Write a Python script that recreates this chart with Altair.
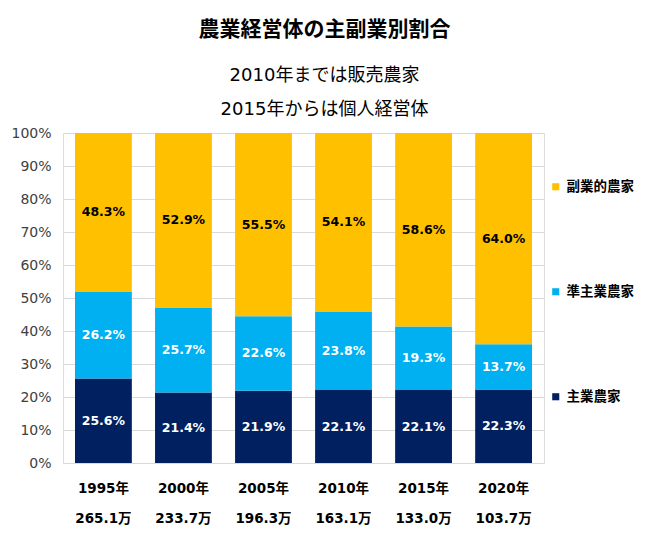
import altair as alt
import pandas as pd

years = ["1995年", "2000年", "2005年", "2010年", "2015年", "2020年"]
totals = ["265.1万", "233.7万", "196.3万", "163.1万", "133.0万", "103.7万"]
series = ["主業農家", "準主業農家", "副業的農家"]
main_vals = [25.6, 21.4, 21.9, 22.1, 22.1, 22.3]
semi_vals = [26.2, 25.7, 22.6, 23.8, 19.3, 13.7]
side_vals = [48.3, 52.9, 55.5, 54.1, 58.6, 64.0]
y_ticks = [0, 10, 20, 30, 40, 50, 60, 70, 80, 90, 100]

rows = []
for i, (y, t) in enumerate(zip(years, totals)):
    for k, (s, vals) in enumerate(zip(series, [main_vals, semi_vals, side_vals])):
        rows.append({"cat": y + "|" + t, "series": s, "idx": k, "value": vals[i]})
df = pd.DataFrame(rows)

FONT = "DejaVu Sans, Noto Sans CJK JP"
colors = {"主業農家": "#002060", "準主業農家": "#00B0F0", "副業的農家": "#FFC000"}
legend_order = ["副業的農家", "準主業農家", "主業農家"]
cat_order = [y + "|" + t for y, t in zip(years, totals)]

base = alt.Chart(df).transform_stack(
    stack="value", as_=["y0", "y1"], groupby=["cat"], sort=[alt.SortField("idx", order="ascending")]
).transform_calculate(
    mid="(datum.y0 + datum.y1) / 2",
    label="format(datum.value, '.1f') + '%'",
)

y_scale = alt.Scale(domain=[0, 100], clamp=True, nice=False)
x_scale = alt.Scale(paddingInner=0.29, paddingOuter=0.15)

x_axis = alt.Axis(
    labelExpr="split(datum.value, '|')",
    labelAngle=0,
    labelFont=FONT,
    labelFontSize=13.5,
    labelFontWeight="bold",
    labelColor="#000000",
    labelLineHeight=30,
    labelPadding=18,
    labelBaseline="top",
    ticks=False,
    domain=False,
)
y_axis = alt.Axis(
    values=y_ticks,
    labelExpr="datum.value + '%'",
    labelOverlap=False,
    labelFont=FONT,
    labelFontSize=14,
    labelColor="#404040",
    labelPadding=12,
    ticks=False,
    domain=False,
    gridColor="#D9D9D9",
    gridWidth=1,
)

bars = base.mark_bar().encode(
    x=alt.X("cat:N", sort=cat_order, title=None, scale=x_scale, axis=x_axis),
    y=alt.Y("y0:Q", scale=y_scale, title=None, axis=y_axis),
    y2="y1:Q",
    color=alt.Color(
        "series:N",
        scale=alt.Scale(domain=legend_order, range=[colors[s] for s in legend_order]),
        legend=alt.Legend(
            title=None,
            orient="none",
            legendX=486,
            legendY=47,
            symbolType="square",
            symbolSize=50,
            symbolStrokeWidth=0,
            labelFont=FONT,
            labelFontSize=13.5,
            labelFontWeight="bold",
            labelColor="#000000",
            rowPadding=90,
            labelOffset=4,
        ),
    ),
)

labels = base.mark_text(font=FONT, fontSize=12.5, fontWeight="bold", baseline="middle").encode(
    x=alt.X("cat:N", sort=cat_order, title=None, scale=x_scale, axis=x_axis),
    y=alt.Y("mid:Q", scale=y_scale, title=None, axis=y_axis),
    text="label:N",
    color=alt.condition(alt.datum.series == "副業的農家", alt.value("#000000"), alt.value("#FFFFFF")),
)

chart = alt.layer(bars, labels).properties(
    width=481,
    height=330,
    autosize=alt.AutoSizeParams(type="none"),
    padding={"left": 55, "top": 125, "right": 98, "bottom": 67},
    title=alt.Title(
        "農業経営体の主副業別割合",
        subtitle=["2010年までは販売農家", "2015年からは個人経営体"],
        font="Noto Sans CJK JP",
        fontSize=21,
        fontWeight="bold",
        color="#000000",
        subtitleFont="DejaVu Sans, Noto Sans CJK JP",
        subtitleFontSize=18,
        subtitleColor="#000000",
        subtitleLineHeight=34,
        subtitlePadding=27,
        anchor="middle",
        dx=21,
        offset=7,
    ),
).configure_view(stroke=None).configure(background="#FFFFFF")

chart.save("out.html", embed_options={"renderer": "svg", "actions": False})
